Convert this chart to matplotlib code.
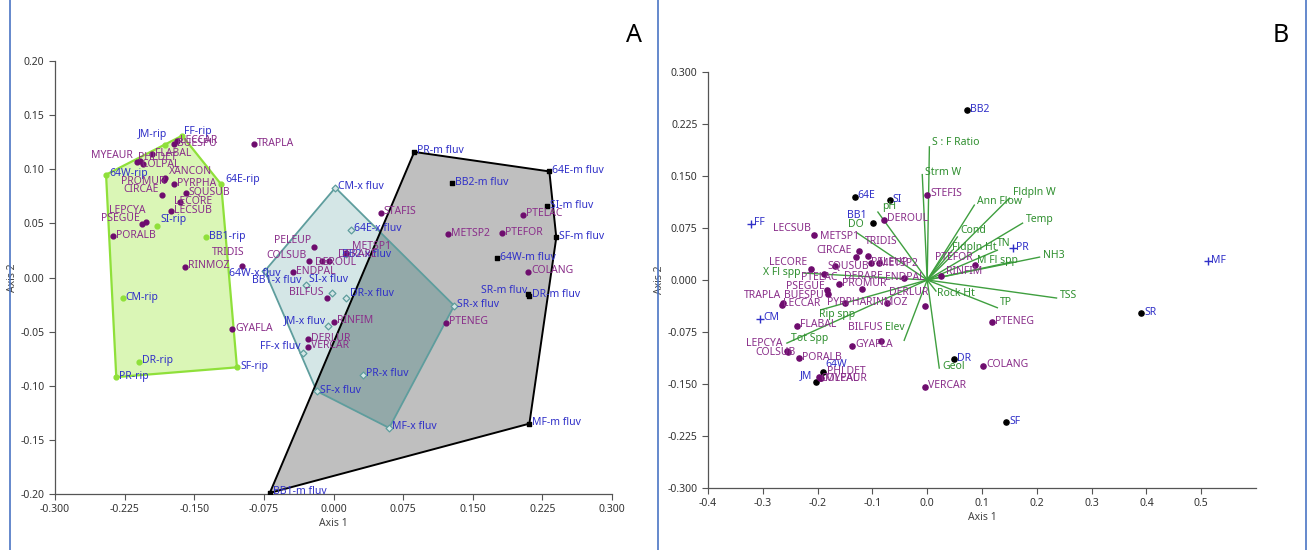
import matplotlib
matplotlib.use("Agg")
import matplotlib.pyplot as plt
from matplotlib.patches import Polygon
from matplotlib.lines import Line2D

plt.rcParams['font.family'] = ['Noto Sans', 'DejaVu Sans']

# ---------------- panel A data ----------------
rip_names = ['64W-rip', 'FF-rip', 'JM-rip', 'SI-rip', 'BB1-rip', '64E-rip',
             'CM-rip', 'DR-rip', 'SF-rip', 'PR-rip']
rip_x = [-0.245, -0.163, -0.181, -0.190, -0.137, -0.121, -0.227, -0.209, -0.104, -0.234]
rip_y = [0.095, 0.131, 0.122, 0.048, 0.037, 0.086, -0.019, -0.078, -0.083, -0.092]

xfl_names = ['CM-x fluv', 'SR-x fluv', 'MF-x fluv', 'SF-x fluv', 'FF-x fluv', '64W-x fluv',
             'BB1-x fluv', 'SI-x fluv', 'DR-x fluv', '64E-x fluv', 'BB2-x fluv',
             'JM-x fluv', 'PR-x fluv']
xfl_x = [0.002, 0.130, 0.060, -0.018, -0.033, -0.074, -0.030, -0.002, 0.014, 0.019, 0.014,
         -0.006, 0.032]
xfl_y = [0.083, -0.026, -0.139, -0.105, -0.070, 0.006, -0.007, -0.014, -0.019, 0.044, 0.022,
         -0.045, -0.090]

mfl_names = ['PR-m fluv', '64E-m fluv', 'SI-m fluv', 'SF-m fluv', 'DR-m fluv', 'SR-m fluv',
             'BB2-m fluv', '64W-m fluv', 'MF-m fluv', 'BB1-m fluv']
mfl_x = [0.087, 0.2325, 0.230, 0.240, 0.211, 0.209, 0.1275, 0.176, 0.211, -0.0686]
mfl_y = [0.116, 0.098, 0.066, 0.037, -0.017, -0.015, 0.087, 0.018, -0.135, -0.199]

spA_names = ['LECCAR', 'BUESPU', 'TRAPLA', 'MYEAUR', 'PHLDET', 'COLPAL', 'FLABAL', 'XANCON',
             'PROMUR', 'PYRPHA', 'CIRCAE', 'SQUSUB', 'LECORE', 'LECSUB', 'LEPCYA', 'PSEGUE',
             'PORALB', 'TRIDIS', 'RINMOZ', 'GYAFLA', 'STAFIS', 'METSP2', 'PTEFOR', 'PTELAC',
             'COLANG', 'PTENEG', 'PELEUP', 'COLSUB', 'DEROUL', 'DERARE', 'METSP1', 'ENDPAL',
             'BILFUS', 'RINFIM', 'DERLUR', 'VERCAR']
spA_x = [-0.169, -0.172, -0.086, -0.212, -0.208, -0.205, -0.196, -0.181,
         -0.183, -0.172, -0.185, -0.159, -0.165, -0.175, -0.2025, -0.206,
         -0.237, -0.0986, -0.160, -0.109, 0.051, 0.123, 0.182, 0.2036,
         0.210, 0.121, -0.021, -0.026, -0.012, -0.005, 0.013, -0.044,
         -0.0075, 0.000, -0.028, -0.028]
spA_y = [0.126, 0.123, 0.123, 0.107, 0.108, 0.105, 0.114, 0.092,
         0.090, 0.086, 0.076, 0.078, 0.070, 0.061, 0.051, 0.049,
         0.038, 0.011, 0.010, -0.048, 0.060, 0.040, 0.041, 0.058,
         0.0055, -0.042, 0.028, 0.015, 0.015, 0.015, 0.023, 0.005,
         -0.019, -0.041, -0.057, -0.064]

# ---------------- panel B data ----------------
siteB_names = ['BB2', '64E', 'SI', 'BB1', 'DR', 'SR', 'SF', '64W', 'JM']
siteB_x = [0.073, -0.132, -0.068, -0.099, 0.048, 0.391, 0.144, -0.190, -0.203]
siteB_y = [0.245, 0.120, 0.115, 0.082, -0.114, -0.048, -0.205, -0.133, -0.147]

plusB_names = ['FF', 'CM', 'PR', 'MF']
plusB_x = [-0.322, -0.305, 0.157, 0.512]
plusB_y = [0.081, -0.056, 0.046, 0.027]

spB_names = ['STEFIS', 'DEROUL', 'LECSUB', 'METSP1', 'TRIDIS', 'CIRCAE', 'SQUSUB', 'PELEUP',
             'METSP2', 'LECORE', 'PTELAC', 'DERARE', 'ENDPAL', 'PROMUR', 'PSEGUE', 'BUESPU',
             'TRAPLA', 'LECCAR', 'PYRPHA', 'RINMOZ', 'FLABAL', 'BILFUS', 'GYAFLA', 'LEPCYA',
             'COLSUB', 'PORALB', 'PHLDET', 'COLPAL', 'MYEAUR', 'VERCAR', 'COLANG', 'PTEFOR',
             'RINFIM', 'DERLUR', 'PTENEG']
spB_x = [0.000, -0.079, -0.207, -0.124, -0.108, -0.130, -0.168, -0.102,
         -0.088, -0.212, -0.188, -0.119, -0.042, -0.161, -0.183, -0.181,
         -0.263, -0.265, -0.150, -0.073, -0.238, -0.084, -0.137, -0.256,
         -0.254, -0.234, -0.197, -0.196, -0.194, -0.004, 0.102, 0.088,
         0.026, -0.004, 0.119]
spB_y = [0.123, 0.087, 0.065, 0.042, 0.035, 0.033, 0.020, 0.025,
         0.025, 0.016, 0.009, -0.013, 0.003, -0.006, -0.014, -0.020,
         -0.033, -0.036, -0.033, -0.033, -0.066, -0.088, -0.095, -0.102,
         -0.104, -0.113, -0.140, -0.141, -0.141, -0.154, -0.124, 0.022,
         0.006, -0.038, -0.061]

vec_names = ['S : F Ratio', 'Strm W', 'Ann Flow', 'Fldpln W', 'Temp', 'Cond', 'Fldpln Ht',
             'TN', 'NH3', 'M Fl spp', 'TSS', 'TP', 'Rock Ht', 'Geol', 'Elev', 'pH', 'DO',
             'X Fl spp', 'Rip spp', 'Tot Spp']
vec_x = [0.004, -0.009, 0.086, 0.150, 0.174, 0.055, 0.046, 0.128, 0.205, 0.154, 0.236,
         0.128, 0.016, 0.022, -0.042, -0.090, -0.128, -0.225, -0.194, -0.256]
vec_y = [0.192, 0.152, 0.108, 0.118, 0.082, 0.062, 0.043, 0.043, 0.033, 0.026, -0.026,
         -0.040, -0.016, -0.127, -0.087, 0.098, 0.068, 0.010, -0.043, -0.091]

# label offsets in pixels (dx, dy, ha); anything missing uses the default
DEF = (3, 1, 'left')
offA = {
    'JM-rip': (2, 11, 'right'), 'FF-rip': (2, 4, 'left'), '64E-rip': (4, 5, 'left'),
    'SI-rip': (3, 6, 'left'), 'MYEAUR': (-4, 6, 'right'), 'PHLDET': (-2, 3, 'left'),
    'COLPAL': (-2, -1, 'left'), 'XANCON': (3, 6, 'left'), 'PROMUR': (2, -1, 'right'),
    'CIRCAE': (-3, 6, 'right'), 'LECORE': (-6, 0, 'left'), 'LEPCYA': (0, 12, 'right'),
    'PSEGUE': (-3, 6, 'right'), 'TRIDIS': (3, 13, 'right'),
    '64W-x fluv': (16, -2, 'right'), 'BB1-x fluv': (-4, 5, 'right'),
    'SI-x fluv': (-23, 13, 'left'), 'DR-x fluv': (4, 5, 'left'),
    'JM-x fluv': (-2, 6, 'right'), 'FF-x fluv': (-2, 7, 'right'),
    'BB2-x fluv': (-4, -1, 'left'), 'SR-m fluv': (0, 3, 'right'),
    'PELEUP': (-3, 7, 'right'), 'COLSUB': (-3, 6, 'right'), 'DEROUL': (-7, -1, 'left'),
    'DERARE': (9, 7, 'left'), 'METSP1': (6, 6, 'left'), 'BILFUS': (-3, 6, 'right'),
}
offB = {
    'BB1': (-6, 8, 'right'), '64W': (2, 8, 'left'), 'JM': (-4, 6, 'right'),
    'LECSUB': (-3, 6, 'right'), 'METSP1': (0, 14, 'right'), 'TRIDIS': (-3, 14, 'left'),
    'CIRCAE': (-4, 7, 'right'), 'SQUSUB': (-8, 0, 'left'), 'PELEUP': (0, 0, 'left'),
    'METSP2': (0, -1, 'left'), 'LECORE': (-4, 6, 'right'), 'PTELAC': (-23, -4, 'left'),
    'DERARE': (-18, 13, 'left'), 'ENDPAL': (-19, 0, 'left'), 'PSEGUE': (-2, 3, 'right'),
    'BUESPU': (-4, -2, 'right'), 'TRAPLA': (-2, 7, 'right'), 'LECCAR': (1, 1, 'left'),
    'PYRPHA': (-18, 0, 'left'), 'RINMOZ': (-21, 0, 'left'), 'BILFUS': (1, 14, 'right'),
    'LEPCYA': (-4, 7, 'right'), 'COLSUB': (8, 0, 'right'), 'PHLDET': (8, 6, 'left'),
    'COLPAL': (1, -1, 'left'), 'MYEAUR': (4, -1, 'left'), 'PTEFOR': (-3, 7, 'right'),
    'RINFIM': (5, 4, 'left'), 'DERLUR': (3, 14, 'right'),
}
offV = {
    'S : F Ratio': (3, 4, 'left'), 'Strm W': (3, 2, 'left'), 'Ann Flow': (3, 4, 'left'),
    'Fldpln W': (4, 6, 'left'), 'Temp': (3, 4, 'left'), 'Cond': (3, 7, 'left'),
    'Fldpln Ht': (0, 3, 'left'), 'TN': (0, 7, 'left'), 'NH3': (3, 2, 'left'),
    'M Fl spp': (6, 1, 'right'), 'TSS': (3, 3, 'left'), 'TP': (3, 5, 'left'),
    'Rock Ht': (1, -2, 'left'), 'Geol': (3, 2, 'left'), 'Elev': (0, 13, 'right'),
    'pH': (4, 6, 'left'), 'DO': (7, 8, 'right'), 'X Fl spp': (-3, 1, 'right'),
    'Rip spp': (-2, -5, 'left'), 'Tot Spp': (4, 5, 'left'),
}

PURPLE_DOT = '#6e0c6e'
PURPLE_TXT = '#8a2f8a'
BLUE_TXT = '#3030c8'
GREEN_TXT = '#2f8f2f'
GREEN_LINE = '#3f9f3f'
FS = 7.5


def hull(xs, ys):
    pts = sorted(set(zip(xs, ys)))

    def cross(o, a, b):
        return (a[0] - o[0]) * (b[1] - o[1]) - (a[1] - o[1]) * (b[0] - o[0])
    lower, upper = [], []
    for p in pts:
        while len(lower) >= 2 and cross(lower[-2], lower[-1], p) <= 0:
            lower.pop()
        lower.append(p)
    for p in reversed(pts):
        while len(upper) >= 2 and cross(upper[-2], upper[-1], p) <= 0:
            upper.pop()
        upper.append(p)
    return lower[:-1] + upper[:-1]


def labels(ax, names, xs, ys, color, offs):
    for n, x, y in zip(names, xs, ys):
        dx, dy, ha = offs.get(n, DEF)
        ax.annotate(n, (x, y), xytext=(dx, dy), textcoords='offset pixels',
                    ha=ha, va='center', fontsize=FS, color=color, zorder=6)


def style(ax):
    for s in ['top', 'right']:
        ax.spines[s].set_visible(False)
    for s in ['left', 'bottom']:
        ax.spines[s].set_color('#555555')
        ax.spines[s].set_linewidth(0.9)
    ax.tick_params(direction='out', length=4, width=0.8, colors='#555555',
                   labelsize=7.5, labelcolor='#333333')


fig = plt.figure(figsize=(13.08, 5.5), dpi=100)

# ---------------- panel A ----------------
axA = fig.add_axes([55 / 1308, 1 - 494 / 550, 557 / 1308, 433 / 550])
h_rip = hull(rip_x, rip_y)
h_xfl = hull(xfl_x, xfl_y)
h_mfl = hull(mfl_x, mfl_y)
axA.add_patch(Polygon(h_rip, closed=True, facecolor='#daf6b6', edgecolor='none', zorder=1))
axA.add_patch(Polygon(h_xfl, closed=True, facecolor='#d4e6e6', edgecolor='none', zorder=1))
gray = Polygon(h_mfl, closed=True, facecolor='#bfbfbf', edgecolor='none', zorder=1.5)
axA.add_patch(gray)
over = Polygon(h_xfl, closed=True, facecolor='#93a9a9', edgecolor='none', zorder=1.6)
axA.add_patch(over)
over.set_clip_path(gray)
axA.add_patch(Polygon(h_rip, closed=True, fill=False, edgecolor='#8fe03a', lw=1.6, zorder=2))
axA.add_patch(Polygon(h_xfl, closed=True, fill=False, edgecolor='#5e9d9d', lw=1.3, zorder=2))
axA.add_patch(Polygon(h_mfl, closed=True, fill=False, edgecolor='black', lw=1.4, zorder=2))

axA.scatter(rip_x, rip_y, s=12, color='#8fe03a', zorder=4)
axA.scatter(xfl_x, xfl_y, s=12, marker='D', facecolor='#d4e6e6', edgecolor='#5e9d9d',
            lw=0.9, zorder=4)
axA.scatter(mfl_x, mfl_y, s=12, marker='s', color='black', zorder=4)
axA.scatter(spA_x, spA_y, s=12, color=PURPLE_DOT, zorder=4)
labels(axA, rip_names, rip_x, rip_y, BLUE_TXT, offA)
labels(axA, xfl_names, xfl_x, xfl_y, BLUE_TXT, offA)
labels(axA, mfl_names, mfl_x, mfl_y, BLUE_TXT, offA)
labels(axA, spA_names, spA_x, spA_y, PURPLE_TXT, offA)

axA.set_xlim(-0.3, 0.3)
axA.set_ylim(-0.2, 0.2)
axA.set_xticks([-0.3 + 0.075 * i for i in range(9)])
axA.set_xticklabels(['-0.300', '-0.225', '-0.150', '-0.075', '0.000', '0.075', '0.150',
                     '0.225', '0.300'])
axA.set_yticks([-0.2 + 0.05 * i for i in range(9)])
axA.set_yticklabels(['-0.20', '-0.15', '-0.10', '-0.05', '0.00', '0.05', '0.10', '0.15',
                     '0.20'])
style(axA)
axA.set_xlabel('Axis 1', fontsize=7.5, color='#444444', labelpad=2)
axA.set_ylabel('Axis 2', fontsize=7.5, color='#444444', labelpad=2)

# ---------------- panel B ----------------
axB = fig.add_axes([708 / 1308, 1 - 488 / 550, 548 / 1308, 416 / 550])
for n, x, y in zip(vec_names, vec_x, vec_y):
    axB.plot([0, x], [0, y], color=GREEN_LINE, lw=1.0, zorder=2)
labels(axB, vec_names, vec_x, vec_y, GREEN_TXT, offV)
axB.scatter(siteB_x, siteB_y, s=14, color='black', zorder=4)
axB.scatter(plusB_x, plusB_y, s=30, marker='+', color=BLUE_TXT, lw=1.0, zorder=4)
axB.scatter(spB_x, spB_y, s=14, color=PURPLE_DOT, zorder=4)
labels(axB, siteB_names, siteB_x, siteB_y, BLUE_TXT, offB)
labels(axB, plusB_names, plusB_x, plusB_y, BLUE_TXT, offB)
labels(axB, spB_names, spB_x, spB_y, PURPLE_TXT, offB)

axB.set_xlim(-0.4, 0.6)
axB.set_ylim(-0.3, 0.3)
axB.set_xticks([-0.4 + 0.1 * i for i in range(10)])
axB.set_xticklabels(['-0.4', '-0.3', '-0.2', '-0.1', '0.0', '0.1', '0.2', '0.3', '0.4',
                     '0.5'])
axB.set_yticks([-0.3 + 0.075 * i for i in range(9)])
axB.set_yticklabels(['-0.300', '-0.225', '-0.150', '-0.075', '0.000', '0.075', '0.150',
                     '0.225', '0.300'])
style(axB)
axB.set_xlabel('Axis 1', fontsize=7.5, color='#444444', labelpad=2)
axB.set_ylabel('Axis 2', fontsize=7.5, color='#444444', labelpad=2)

# panel frames and letters
for xp in [10, 658, 1306]:
    fig.add_artist(Line2D([xp / 1308, xp / 1308], [0, 1], color='#4a74c4', lw=1.2))
fig.text(634 / 1308, 1 - 36 / 550, 'A', fontsize=18, ha='center', va='center')
fig.text(1281 / 1308, 1 - 36 / 550, 'B', fontsize=18, ha='center', va='center')

fig.savefig('out.png', dpi=100)
